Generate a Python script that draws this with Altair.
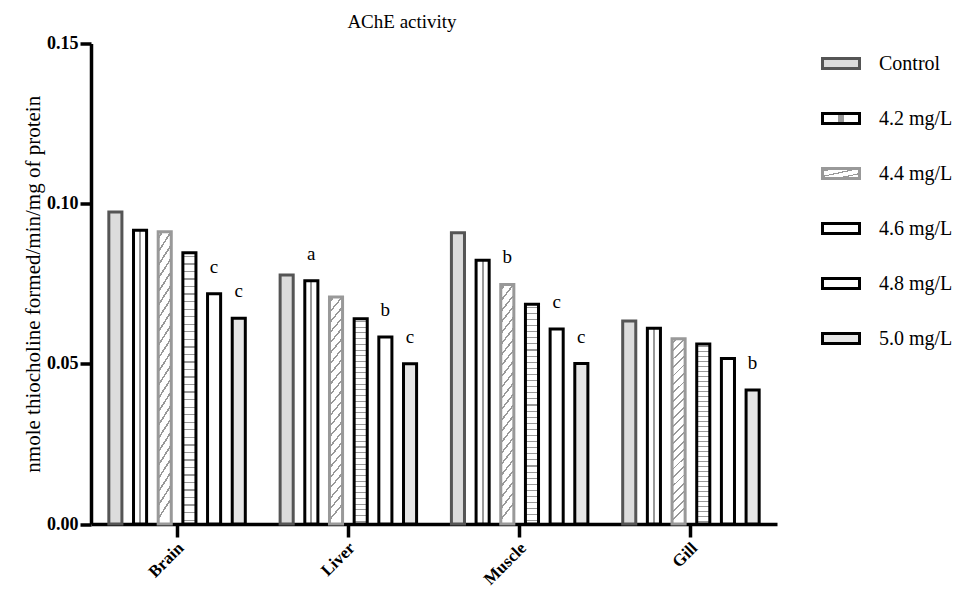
import altair as alt
import pandas as pd

categories = ["Brain", "Liver", "Muscle", "Gill"]
series = ["Control", "4.2 mg/L", "4.4 mg/L", "4.6 mg/L", "4.8 mg/L", "5.0 mg/L"]

brain = [0.0974, 0.0917, 0.0912, 0.0847, 0.0719, 0.0642]
liver = [0.0777, 0.0759, 0.0709, 0.0641, 0.0584, 0.0500]
muscle = [0.0909, 0.0823, 0.0748, 0.0686, 0.0609, 0.0501]
gill = [0.0634, 0.0611, 0.0578, 0.0562, 0.0517, 0.0418]

brain_sig = ["", "", "", "", "c", "c"]
liver_sig = ["", "a", "", "", "b", "c"]
muscle_sig = ["", "", "b", "", "c", "c"]
gill_sig = ["", "", "", "", "", "b"]

values = [brain, liver, muscle, gill]
sigs = [brain_sig, liver_sig, muscle_sig, gill_sig]

rows = []
for c, vals, sg in zip(categories, values, sigs):
    for s, v, l in zip(series, vals, sg):
        rows.append({"tissue": c, "group": s, "value": v, "sig": l})
df = pd.DataFrame(rows)

FONT = "Liberation Serif"
GRAY = "#999999"


def stripes(x1, y1, x2, y2, n, duty, color):
    stops = []
    for k in range(n):
        a = k / n + (1 - duty) / (2 * n)
        b = a + duty / n
        stops += [(a, "white"), (a, color), (b, color), (b, "white")]
    stops = [(0, "white")] + stops + [(1, "white")]
    st = ", ".join("{offset: %.5f, color: '%s'}" % (o, c) for o, c in stops)
    return {"expr": "{gradient: 'linear', x1: %g, y1: %g, x2: %g, y2: %g, stops: [%s]}" % (x1, y1, x2, y2, st)}


fill_range = [
    "#dcdcdc",
    stripes(0, 0, 1, 0, 1, 0.14, GRAY),          # vertical line
    stripes(0, 0, 0.07, 1, 22, 0.22, GRAY),      # diagonal hatch
    stripes(1, 0, 1, 1, 36, 0.18, GRAY),         # horizontal lines
    "#ffffff",
    "#e6e6e6",
]
stroke_range = ["#555555", "#000000", GRAY, "#000000", "#000000", "#000000"]

x = alt.X("tissue:N", sort=categories, title=None,
          scale=alt.Scale(paddingInner=0.135, paddingOuter=0.07),
          axis=alt.Axis(labelAngle=315, labelAlign="right", labelBaseline="middle",
                        labelFont=FONT, labelFontSize=17, labelFontWeight="bold",
                        labelColor="black", labelPadding=8, labelOffset=4,
                        tickSize=13, tickWidth=3.5, tickColor="black",
                        domainWidth=3.5, domainColor="black"))
xo = alt.XOffset("group:N", sort=series,
                 scale=alt.Scale(domain=series, paddingInner=0.47, paddingOuter=0.237))
y = alt.Y("value:Q", title="nmole thiocholine formed/min/mg of protein",
          scale=alt.Scale(domain=[0, 0.15], nice=False),
          axis=alt.Axis(values=[0, 0.05, 0.10, 0.15], format=".2f", grid=False,
                        labelFont=FONT, labelFontSize=18, labelFontWeight="bold",
                        labelColor="black", labelPadding=2,
                        tickSize=11, tickWidth=3.5, tickColor="black",
                        domainWidth=3.5, domainColor="black",
                        titleFont=FONT, titleFontSize=21, titleFontWeight="normal",
                        titleColor="black", titlePadding=3))

legend_opts = dict(title=None, orient="none", legendX=730, legendY=0,
                   symbolType="M-1,-0.27H1V0.27H-1Z", symbolSize=1369,
                   symbolStrokeWidth=3, rowPadding=24, labelOffset=18,
                   labelFont=FONT, labelFontSize=20, labelColor="black", padding=0)

bars = alt.Chart(df).mark_bar(strokeWidth=3).encode(
    x=x, xOffset=xo, y=y,
    fill=alt.Fill("group:N", sort=series,
                  scale=alt.Scale(domain=series, range=fill_range),
                  legend=alt.Legend(**legend_opts)),
    stroke=alt.Stroke("group:N", sort=series,
                      scale=alt.Scale(domain=series, range=stroke_range),
                      legend=alt.Legend(**legend_opts)),
)

letters = alt.Chart(df).mark_text(font=FONT, fontSize=19, color="black",
                                  baseline="middle", dy=-27).encode(
    x=x, xOffset=xo, y=y, text="sig:N",
)

chart = alt.layer(bars, letters).properties(
    width=686, height=480.5,
    title=alt.TitleParams("AChE activity", font=FONT, fontSize=19, fontWeight="normal",
                          color="black", dx=-32, offset=3),
    autosize=alt.AutoSizeParams(type="none"),
    padding={"left": 83, "top": 35.5, "right": 175, "bottom": 65},
).configure_view(stroke=None)

chart.save("out.html", embed_options={"renderer": "svg", "actions": False})
